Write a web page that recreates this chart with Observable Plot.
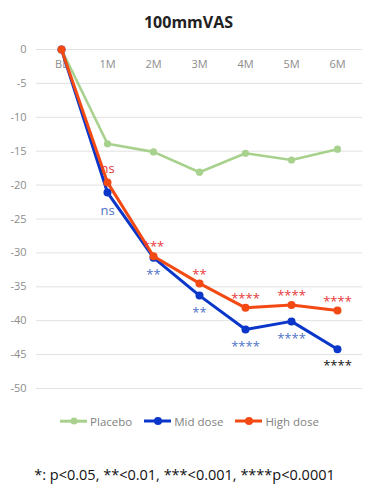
<!DOCTYPE html>
<html>
<head>
<meta charset="utf-8">
<script src="https://cdn.jsdelivr.net/npm/d3@7"></script>
<script src="https://cdn.jsdelivr.net/npm/@observablehq/plot@0.6"></script>
<style>
  html, body { margin: 0; padding: 0; background: #fff; }
  body { width: 377px; height: 489px; font-family: "Open Sans", "Noto Sans", sans-serif; }
  #title { height: 36px; line-height: 44px; text-align: center; font-weight: bold; font-size: 16px; color: #222; }
  #chart svg { display: block; }
  #legend { display: flex; justify-content: center; align-items: center; gap: 12px; font-size: 11.5px; color: #7f7f7f; height: 18px; margin-top: 6px; padding-left: 2px; }
  .item { display: flex; align-items: center; }
  .sw { position: relative; width: 27px; height: 10px; margin-right: 3px; }
  .sw .ln { position: absolute; left: 0; right: 0; top: 50%; transform: translateY(-50%); }
  .sw .dt { position: absolute; left: 50%; top: 50%; border-radius: 50%; transform: translate(-50%, -50%); }
  #note { text-align: center; font-size: 14.5px; color: #111; margin-top: 35px; padding-right: 8px; }
</style>
</head>
<body>
<div id="title">100mmVAS</div>
<div id="chart"></div>
<div id="legend"></div>
<div id="note">*: p&lt;0.05, **&lt;0.01, ***&lt;0.001, ****p&lt;0.0001</div>
<script>
// Change from baseline in 100 mm VAS by visit
const months = ["BL", "1M", "2M", "3M", "4M", "5M", "6M"];
const placebo = [0, -13.9, -15.1, -18.1, -15.3, -16.3, -14.7];
const midDose = [0, -21.1, -30.7, -36.3, -41.3, -40.1, -44.2];
const highDose = [0, -19.6, -30.5, -34.5, -38.1, -37.7, -38.5];
const highSig = ["", "ns", "***", "**", "****", "****", "****"];
const midSig = ["", "ns", "**", "**", "****", "****", "****"];
const yTicks = [0, -5, -10, -15, -20, -25, -30, -35, -40, -45, -50];

const seriesNames = ["Placebo", "Mid dose", "High dose"];
const seriesColors = ["#a9d18e", "#0a36c9", "#f34a14"];

const rows = (name, values) => months.map((m, i) => ({series: name, month: m, value: values[i], i}));
const placeboRows = rows("Placebo", placebo);
const midRows = rows("Mid dose", midDose);
const highRows = rows("High dose", highDose);

const sigRows = (values, labels) => months.map((m, i) => ({month: m, value: values[i], label: labels[i], i})).filter(d => d.label);
const sigHigh = sigRows(highDose, highSig);
const sigMid = sigRows(midDose, midSig);
const lastIndex = months.length - 1;

const font = "'Open Sans', 'Noto Sans', sans-serif";

const chart = Plot.plot({
  width: 377,
  height: 370,
  marginTop: 13,
  marginBottom: 18,
  marginLeft: 36,
  marginRight: 15,
  style: {fontFamily: font, fontSize: "11px", color: "#8c8c8c", background: "#fff"},
  x: {type: "point", domain: months, padding: 0.5, axis: null},
  y: {domain: [-50, 0], axis: null},
  marks: [
    Plot.ruleY(yTicks, {stroke: "#e2e2e2", strokeWidth: 1}),
    Plot.axisY({ticks: yTicks, tickSize: 0, tickPadding: 10, fill: "#8c8c8c", fontSize: 11, label: null, tickFormat: d => String(d)}),
    Plot.text(months, {x: d => d, y: () => 0, dy: 15, text: d => d, fill: "#8c8c8c", fontSize: 11}),
    Plot.line(placeboRows, {x: "month", y: "value", stroke: seriesColors[0], strokeWidth: 2.6}),
    Plot.dot(placeboRows, {x: "month", y: "value", r: 3.6, fill: seriesColors[0]}),
    Plot.line(midRows, {x: "month", y: "value", stroke: seriesColors[1], strokeWidth: 3}),
    Plot.dot(midRows, {x: "month", y: "value", r: 4, fill: seriesColors[1]}),
    Plot.line(highRows, {x: "month", y: "value", stroke: seriesColors[2], strokeWidth: 3}),
    Plot.dot(highRows, {x: "month", y: "value", r: 4, fill: seriesColors[2]}),
    // significance vs placebo: high dose above its line, mid dose below
    Plot.text(sigHigh.filter(d => d.label === "ns"), {x: "month", y: "value", text: "label", fill: "#e8383a", fontSize: 13, dy: -14}),
    Plot.text(sigHigh.filter(d => d.label !== "ns"), {x: "month", y: "value", text: "label", fill: "#e8383a", fontSize: 13, dy: -9}),
    Plot.text(sigMid.filter(d => d.label === "ns"), {x: "month", y: "value", text: "label", fill: "#4f74c7", fontSize: 13, dy: 18}),
    Plot.text(sigMid.filter(d => d.label !== "ns"), {x: "month", y: "value", text: "label", fontSize: 13, dy: 17,
      fill: d => d.i === lastIndex ? "#111" : "#4f74c7"})
  ]
});
document.getElementById("chart").appendChild(chart);

// legend
const legend = document.getElementById("legend");
seriesNames.forEach((name, k) => {
  const item = document.createElement("div");
  item.className = "item";
  const thick = k === 0 ? 2.6 : 3;
  const r = k === 0 ? 7 : 8;
  item.innerHTML = `<span class="sw"><span class="ln" style="height:${thick}px;background:${seriesColors[k]}"></span>` +
    `<span class="dt" style="width:${r}px;height:${r}px;background:${seriesColors[k]}"></span></span><span>${name}</span>`;
  legend.appendChild(item);
});
</script>
</body>
</html>
